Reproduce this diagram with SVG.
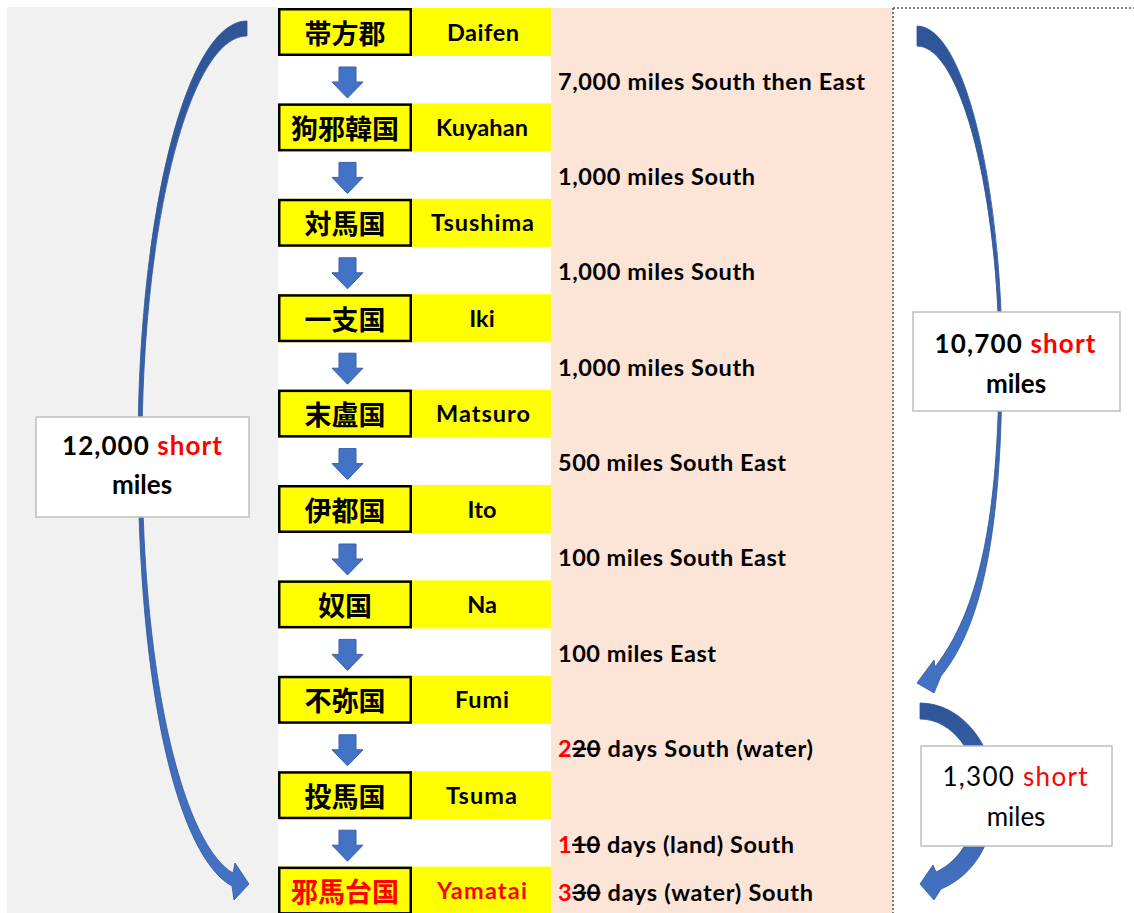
<svg xmlns="http://www.w3.org/2000/svg" xmlns:xlink="http://www.w3.org/1999/xlink" width="1134" height="913" viewBox="0 0 1134 913">
<style>
.kbox{fill:#FFFF00;stroke:#000;stroke-width:2.5}
.ycell{fill:#FFFF00}
.kj{font-family:"Noto Sans CJK JP","Noto Sans CJK SC",sans-serif;font-weight:700;font-size:27px;fill:#000;text-anchor:middle;dominant-baseline:central}
.nm{font-family:Lato,"Liberation Sans",sans-serif;font-weight:700;font-size:23.5px;fill:#000;text-anchor:middle}
.ds{font-family:Lato,"Liberation Sans",sans-serif;font-weight:700;font-size:23.5px;fill:#000}
.bx{fill:#fff;stroke:#BFBFBF;stroke-width:1.5}
.bt{font-family:Lato,"Liberation Sans",sans-serif;font-weight:700;font-size:26px;fill:#000;text-anchor:middle}
.bt2{font-family:Lato,"Liberation Sans",sans-serif;font-weight:400;font-size:26px;fill:#000;text-anchor:middle}
.red{fill:#FF0000}
.darr{fill:#4472C4;stroke:#3760AC;stroke-width:1}
.carr{fill:url(#bg);stroke:#2F5597;stroke-width:0.8}
</style>
<defs>
<linearGradient id="bg" x1="0" y1="0" x2="0" y2="1">
<stop offset="0" stop-color="#2F5597"/>
<stop offset="1" stop-color="#4472C4"/>
</linearGradient>
<path id="da" d="M339,67 H356 V82 H363 L347.5,98 L332,82 H339 Z"/>
</defs>
<!-- backgrounds -->
<rect x="0" y="0" width="1134" height="913" fill="#fff"/>
<rect x="7" y="7" width="271" height="906" fill="#F1F1F1"/>
<rect x="551" y="8" width="342" height="905" fill="#FCE4D6"/>
<path d="M893,8 H1134 M893,8 V913" fill="none" stroke="#555" stroke-width="1.5" stroke-dasharray="2 2"/>

<g id="row-daifen">
<rect class="ycell" x="278" y="8" width="273" height="48"/>
<rect class="kbox" x="279.25" y="9.25" width="131.5" height="45.5"/>
<text class="kj" x="345" y="32">帯方郡</text>
<text class="nm" x="483" y="40.5" textLength="72">Daifen</text>
</g>
<g id="row-kuyahan">
<rect class="ycell" x="278" y="103.4" width="273" height="48"/>
<rect class="kbox" x="279.25" y="104.65" width="131.5" height="45.5"/>
<text class="kj" x="345" y="127.4">狗邪韓国</text>
<text class="nm" x="482" y="135.9" textLength="92">Kuyahan</text>
</g>
<g id="row-tsushima">
<rect class="ycell" x="278" y="198.8" width="273" height="48"/>
<rect class="kbox" x="279.25" y="200.05" width="131.5" height="45.5"/>
<text class="kj" x="345" y="222.8">対馬国</text>
<text class="nm" x="482.5" y="231.3" textLength="103">Tsushima</text>
</g>
<g id="row-iki">
<rect class="ycell" x="278" y="294.2" width="273" height="48"/>
<rect class="kbox" x="279.25" y="295.45" width="131.5" height="45.5"/>
<text class="kj" x="345" y="318.2">一支国</text>
<text class="nm" x="482" y="326.7">Iki</text>
</g>
<g id="row-matsuro">
<rect class="ycell" x="278" y="389.6" width="273" height="48"/>
<rect class="kbox" x="279.25" y="390.85" width="131.5" height="45.5"/>
<text class="kj" x="345" y="413.6">末盧国</text>
<text class="nm" x="483" y="422.1" textLength="94">Matsuro</text>
</g>
<g id="row-ito">
<rect class="ycell" x="278" y="485" width="273" height="48"/>
<rect class="kbox" x="279.25" y="486.25" width="131.5" height="45.5"/>
<text class="kj" x="345" y="509">伊都国</text>
<text class="nm" x="482" y="517.5">Ito</text>
</g>
<g id="row-na">
<rect class="ycell" x="278" y="580.4" width="273" height="48"/>
<rect class="kbox" x="279.25" y="581.65" width="131.5" height="45.5"/>
<text class="kj" x="345" y="604.4">奴国</text>
<text class="nm" x="482" y="612.9">Na</text>
</g>
<g id="row-fumi">
<rect class="ycell" x="278" y="675.8" width="273" height="48"/>
<rect class="kbox" x="279.25" y="677.05" width="131.5" height="45.5"/>
<text class="kj" x="345" y="699.8">不弥国</text>
<text class="nm" x="482" y="708.3" textLength="54">Fumi</text>
</g>
<g id="row-tsuma">
<rect class="ycell" x="278" y="771.2" width="273" height="48"/>
<rect class="kbox" x="279.25" y="772.45" width="131.5" height="45.5"/>
<text class="kj" x="345" y="795.2">投馬国</text>
<text class="nm" x="481.5" y="803.7" textLength="71">Tsuma</text>
</g>
<g id="row-yamatai">
<rect class="ycell" x="278" y="866.6" width="273" height="48"/>
<rect class="kbox" x="279.25" y="867.85" width="131.5" height="45.5"/>
<text class="kj red" x="345" y="890.6">邪馬台国</text>
<text class="nm red" x="482" y="899.1" textLength="90">Yamatai</text>
</g>

<g id="distances">
<text class="ds" x="558" y="89.5" textLength="307">7,000 miles South then East</text>
<text class="ds" x="558" y="184.5" textLength="197">1,000 miles South</text>
<text class="ds" x="558" y="279.5" textLength="197">1,000 miles South</text>
<text class="ds" x="558" y="375.5" textLength="197">1,000 miles South</text>
<text class="ds" x="558" y="470.5" textLength="228">500 miles South East</text>
<text class="ds" x="558" y="565.5" textLength="228">100 miles South East</text>
<text class="ds" x="558" y="661.5" textLength="158">100 miles East</text>
<text class="ds" x="558" y="756.5" textLength="255"><tspan class="red">2</tspan><tspan text-decoration="line-through">20</tspan> days South (water)</text>
<text class="ds" x="558" y="852.5" textLength="236"><tspan class="red">1</tspan><tspan text-decoration="line-through">10</tspan> days (land) South</text>
<text class="ds" x="558" y="900.5" textLength="255"><tspan class="red">3</tspan><tspan text-decoration="line-through">30</tspan> days (water) South</text>
</g>

<g id="connectors">
<use xlink:href="#da" class="darr"/>
<use xlink:href="#da" class="darr" y="95.4"/>
<use xlink:href="#da" class="darr" y="190.8"/>
<use xlink:href="#da" class="darr" y="286.2"/>
<use xlink:href="#da" class="darr" y="381.6"/>
<use xlink:href="#da" class="darr" y="477"/>
<use xlink:href="#da" class="darr" y="572.4"/>
<use xlink:href="#da" class="darr" y="667.8"/>
<use xlink:href="#da" class="darr" y="763.2"/>
<path class="carr" d="M247,21 C187,21 138,213 138,450 C138,700 180,858 232,886 L234,900 L249,884 L235,863 L233,873 C186,846 142,690 142,450 C142,222 190,36 247,36 Z"/>
<path class="carr" d="M917,26 C965,26 1002,190 1002,360 C1002,520 985,622 941,676 L934,693 L917,683 L934,660 L935,667 C978,612 999,520 999,360 C999,200 962,46 917,46 Z"/>
<path class="carr" d="M920,703 C961,703 995,744 995,795 C995,840 975,875 941,889 L934,900 L920,884 L933,865 L936,872 C962,860 978,830 978,795 C978,753 952,719 920,719 Z"/>
</g>

<g id="box-12000">
<rect class="bx" x="36" y="417" width="213" height="100"/>
<text class="bt" x="142" y="454.5" textLength="160"><tspan>12,000 </tspan><tspan class="red">short</tspan></text>
<text class="bt" x="142" y="493.5">miles</text>
</g>
<g id="box-10700">
<rect class="bx" x="913" y="312" width="207" height="99"/>
<text class="bt" x="1015" y="352.5" textLength="161"><tspan>10,700 </tspan><tspan class="red">short</tspan></text>
<text class="bt" x="1016" y="392.5">miles</text>
</g>
<g id="box-1300">
<rect class="bx" x="921" y="746" width="191" height="100"/>
<text class="bt2" x="1015" y="785.5" textLength="145"><tspan>1,300 </tspan><tspan class="red">short</tspan></text>
<text class="bt2" x="1016" y="825.5">miles</text>
</g>
</svg>
